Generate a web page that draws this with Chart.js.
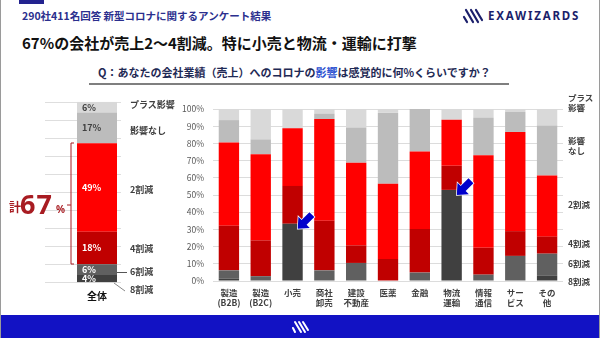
<!DOCTYPE html>
<html>
<head>
<meta charset="utf-8">
<script src="https://cdn.jsdelivr.net/npm/chart.js@4.4.0/dist/chart.umd.min.js"></script>
<style>
  body { margin: 0; background: #fff; }
  #page {
    position: relative; width: 600px; height: 338px; overflow: hidden; background: #fff;
    font-family: "Noto Sans CJK JP", "Noto Sans", sans-serif; box-sizing: border-box;
    border-left: 1px solid #9a9a9a; border-right: 1px solid #9a9a9a;
  }
  .t { position: absolute; white-space: nowrap; line-height: 1; }
  canvas { position: absolute; }
  #tab { position: absolute; left: 18px; top: 0; width: 25px; height: 4px; background: #23238f; }
  #footer { position: absolute; left: 0; top: 315px; width: 600px; height: 23px; background: #1212c4; }
  .lab { position: absolute; font-size: 9px; font-weight: bold; color: #404040; line-height: 9.5px; white-space: nowrap; }
</style>
</head>
<body>
<div id="page">
  <div id="tab"></div>
  <div class="t" style="left:21px;top:11px;font-size:10.5px;font-weight:bold;color:#2b2f8e;">290社411名回答 新型コロナに関するアンケート結果</div>
  <div class="t" style="left:21px;top:35px;font-size:15px;font-weight:bold;color:#111;">67%の会社が売上2〜4割減。特に小売と物流・運輸に打撃</div>
  <div class="t" style="left:97px;top:67px;font-size:11px;font-weight:bold;color:#1f2a55;">Q：あなたの会社業績（売上）へのコロナの<span style="color:#2a4fd0">影響</span>は感覚的に何%くらいですか？</div>
  <div class="t" style="left:487px;top:10px;font-family:'Noto Sans',sans-serif;font-size:11.5px;font-weight:bold;color:#1b1f6b;letter-spacing:1.8px;">EXAWIZARDS</div>

  <canvas id="overall" width="175" height="215" style="left:0;top:95px;"></canvas>
  <canvas id="main" width="430" height="225" style="left:170px;top:95px;"></canvas>

  <svg width="600" height="338" style="position:absolute;left:0;top:0;">
    <line x1="88" y1="84" x2="508" y2="84" stroke="#555" stroke-width="1.5"/>
    <g stroke="#1b1f6b" stroke-width="2.2" stroke-linecap="round">
      <line x1="463" y1="17" x2="466" y2="22"/>
      <line x1="465" y1="10" x2="472" y2="22"/>
      <line x1="470" y1="10" x2="477" y2="22"/>
      <line x1="475" y1="10" x2="481" y2="20"/>
    </g>
    <path d="M73,143 H70 V264 H73 M70,205 H66" fill="none" stroke="#a81c22" stroke-width="1"/>
    <line x1="116" y1="272.5" x2="126" y2="272.5" stroke="#555" stroke-width="1"/>
    <line x1="113" y1="283" x2="124" y2="291" stroke="#888" stroke-width="1"/>
  </svg>

  <div class="t" style="left:8px;top:201px;font-size:12px;font-weight:bold;color:#a81c22;">計</div>
  <div class="t" style="left:19px;top:190px;font-family:'Noto Sans',sans-serif;font-size:27px;font-weight:bold;color:#a81c22;letter-spacing:1px;">67</div>
  <div class="t" style="left:55px;top:204px;font-family:'Noto Sans',sans-serif;font-size:10px;font-weight:bold;color:#a81c22;">%</div>

  <div class="lab" style="left:129px;top:100px;">プラス影響</div>
  <div class="lab" style="left:129px;top:126px;">影響なし</div>
  <div class="lab" style="left:129px;top:185px;">2割減</div>
  <div class="lab" style="left:129px;top:244px;">4割減</div>
  <div class="lab" style="left:129px;top:267px;">6割減</div>
  <div class="lab" style="left:129px;top:285px;">8割減</div>

  <div class="lab" style="left:567px;top:93px;font-size:8.5px;">プラス<br>影響</div>
  <div class="lab" style="left:567px;top:136px;font-size:8.5px;">影響<br>なし</div>
  <div class="lab" style="left:567px;top:200px;font-size:8.5px;">2割減</div>
  <div class="lab" style="left:567px;top:239px;font-size:8.5px;">4割減</div>
  <div class="lab" style="left:567px;top:259px;font-size:8.5px;">6割減</div>
  <div class="lab" style="left:567px;top:277px;font-size:8.5px;">8割減</div>

  <div id="footer"></div>
  <svg width="600" height="338" style="position:absolute;left:0;top:0;">
    <g stroke="#fff" stroke-width="2" stroke-linecap="round">
      <line x1="292" y1="328" x2="294" y2="332"/>
      <line x1="294" y1="322" x2="300" y2="332"/>
      <line x1="298" y1="322" x2="304" y2="332"/>
      <line x1="302" y1="322" x2="307" y2="330"/>
    </g>
  </svg>
</div>

<script>
const fam = '"Noto Sans CJK JP", "Noto Sans", sans-serif';
Chart.defaults.font.family = fam;

// カテゴリ
const categories = [["製造", "(B2B)"], ["製造", "(B2C)"], "小売", ["商社", "卸売"], ["建設", "不動産"],
  "医薬", "金融", ["物流", "運輸"], ["情報", "通信"], ["サー", "ビス"], ["その", "他"]];
const levels = ["8割減", "6割減", "4割減", "2割減", "影響なし", "プラス影響"];
const levelColors = ["#404040", "#606060", "#c00000", "#ff0000", "#bcbcbc", "#d9d9d9"];

// 業種別の値 (%)
const down80 = [1.5, 0, 33.3, 0, 0, 0, 0, 53, 0, 0, 3];
const down60 = [4.7, 2.8, 0, 6.2, 10.5, 0, 4.9, 0, 3.7, 14.6, 12.9];
const down40 = [26, 20.8, 22, 28.9, 10.2, 12.8, 25.3, 14, 15.6, 14.4, 9.9];
const down20 = [48.4, 50.2, 33.5, 59.1, 48.1, 43.8, 45.2, 26.8, 53.9, 57.7, 35.6];
const noEffect = [13, 8.6, 0, 3.2, 20.5, 41.2, 24.6, 0, 21.9, 11.6, 29];
const plusEffect = [6.4, 17.6, 11.2, 2.6, 10.7, 2.2, 0, 6.2, 4.9, 1.7, 9.6];
const series = [down80, down60, down40, down20, noEffect, plusEffect];

// 全体
const overallLabel = "全体";
const overall = [4, 6, 18, 49, 17, 6];

// 矢印を付ける業種
const highlighted = ["小売", "物流運輸"];

///////// 全体の棒
const overallPlugin = {
  id: "overallExtras",
  beforeDatasetsDraw(chart) {
    const ctx = chart.ctx;
    const y = chart.scales.y;
    ctx.save();
    ctx.strokeStyle = "#dedede";
    ctx.lineWidth = 1;
    for (let v = 0; v <= 100; v += 10) {
      const py = Math.round(y.getPixelForValue(v)) + 0.5;
      ctx.beginPath();
      ctx.moveTo(chart.chartArea.left, py);
      ctx.lineTo(chart.chartArea.left + 76, py);
      ctx.stroke();
    }
    ctx.restore();
  },
  afterDatasetsDraw(chart) {
    const ctx = chart.ctx;
    ctx.save();
    ctx.font = "bold 9px " + fam;
    ctx.textAlign = "left";
    ctx.textBaseline = "middle";
    chart.data.datasets.forEach((ds, i) => {
      const el = chart.getDatasetMeta(i).data[0];
      ctx.fillStyle = i >= 4 ? "#404040" : "#ffffff";
      ctx.fillText(overall[i] + "%", el.x - 15, (el.y + el.base) / 2);
    });
    ctx.restore();
  }
};

new Chart(document.getElementById("overall"), {
  type: "bar",
  data: {
    labels: [overallLabel],
    datasets: levels.map((l, i) => ({
      label: l, data: [overall[i]], backgroundColor: levelColors[i], borderWidth: 0,
      barPercentage: 40 / 104, categoryPercentage: 1
    }))
  },
  options: {
    responsive: false, animation: false,
    layout: { padding: { left: 44, right: 27, top: 6.7, bottom: 0 } },
    plugins: { legend: { display: false }, tooltip: { enabled: false } },
    scales: {
      x: {
        stacked: true, grid: { display: false, drawTicks: false }, border: { display: false },
        ticks: { color: "#111", font: { size: 10, weight: "bold" }, padding: 8 },
        afterFit(s) { s.height = 27.7; }
      },
      y: { stacked: true, min: 0, max: 100, display: false }
    }
  },
  plugins: [overallPlugin]
});

///////// 業種別
const arrowPlugin = {
  id: "arrows",
  afterDatasetsDraw(chart) {
    const ctx = chart.ctx;
    const meta = chart.getDatasetMeta(0);
    categories.forEach((c, idx) => {
      const name = [].concat(c).join("");
      if (!highlighted.includes(name)) return;
      const el = meta.data[idx];
      const tx = el.x + el.width / 2 - 5;
      const ty = el.y + 5;
      ctx.save();
      ctx.translate(tx, ty);
      ctx.rotate(Math.PI * 0.75);
      ctx.beginPath();
      ctx.moveTo(0, 0);
      ctx.lineTo(-9, -8);
      ctx.lineTo(-9, -3.5);
      ctx.lineTo(-20, -3.5);
      ctx.lineTo(-20, 3.5);
      ctx.lineTo(-9, 3.5);
      ctx.lineTo(-9, 8);
      ctx.closePath();
      ctx.fillStyle = "#0000cc";
      ctx.strokeStyle = "#ffffff";
      ctx.lineWidth = 1.5;
      ctx.stroke();
      ctx.fill();
      ctx.restore();
    });
  }
};

new Chart(document.getElementById("main"), {
  type: "bar",
  data: {
    labels: categories,
    datasets: levels.map((l, i) => ({
      label: l, data: series[i], backgroundColor: levelColors[i], borderWidth: 0,
      barPercentage: 0.64, categoryPercentage: 1
    }))
  },
  options: {
    responsive: false, animation: false,
    layout: { padding: { left: 0, right: 38, top: 8, bottom: 0 } },
    plugins: { legend: { display: false }, tooltip: { enabled: false } },
    scales: {
      x: {
        stacked: true, grid: { display: false, drawTicks: false }, border: { display: false },
        ticks: { color: "#404040", font: { size: 8.5, weight: "bold", lineHeight: 1.15 }, padding: 7, maxRotation: 0, autoSkip: false },
        afterFit(s) { s.height = 39; }
      },
      y: {
        stacked: true, min: 0, max: 100,
        ticks: { stepSize: 10, callback: (v) => v + "%", color: "#595959", font: { size: 8.5 }, padding: 9 },
        grid: { color: "#dcdcdc", drawTicks: false }, border: { display: false },
        afterFit(s) { s.width = 42; }
      }
    }
  },
  plugins: [arrowPlugin]
});
</script>
</body>
</html>
